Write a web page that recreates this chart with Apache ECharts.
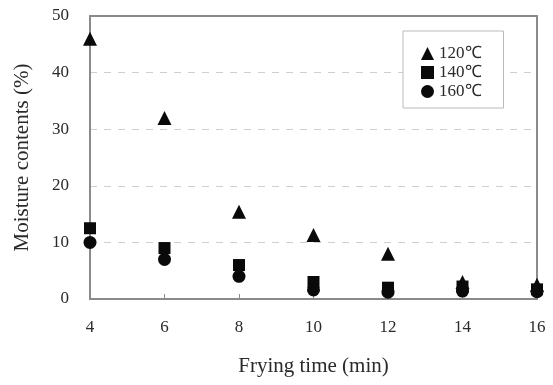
<!DOCTYPE html>
<html>
<head>
<meta charset="utf-8">
<script src="https://cdn.jsdelivr.net/npm/echarts@6/dist/echarts.min.js"></script>
<style>html,body{margin:0;padding:0;background:#fff}#chart{width:553px;height:385px}</style>
</head>
<body>
<div id="chart"></div>
<script>
// frying time (min)
const times = [4, 6, 8, 10, 12, 14, 16];
// moisture contents (%) per oil temperature
const m120 = [46, 32, 15.4, 11.3, 8, 3, 2.5];
const m140 = [12.5, 9, 6, 3, 2, 2.2, 1.7];
const m160 = [10, 7, 4, 1.6, 1.2, 1.4, 1.3];

const FONT = "Liberation Serif";
const AXIS_GREY = "#8a8a8a";
const TEXT = "#2a2a2a";

const pairs = (ys) => times.map((t, i) => [t, ys[i]]);

const chart = echarts.init(document.getElementById("chart"), null, { renderer: "canvas" });

const scatter = (name, symbol, ys, size) => ({
  name,
  type: "scatter",
  symbol,
  symbolSize: size,
  itemStyle: { color: "#0a0a0a", opacity: 1 },
  data: pairs(ys),
});

chart.setOption({
  animation: false,
  textStyle: { fontFamily: FONT },
  legend: {
    orient: "vertical",
    left: 403,
    top: 31,
    padding: [14, 22, 8, 18],
    itemGap: 2,
    itemWidth: 13,
    itemHeight: 13,
    backgroundColor: "#fff",
    borderColor: "#bbb",
    borderWidth: 1,
    textStyle: { fontFamily: FONT, fontSize: 17, color: TEXT, width: 48 },
    data: ["120℃", "140℃", "160℃"],
  },
  grid: { left: 90, right: 16, top: 16, bottom: 86 },
  xAxis: [
    {
      type: "value",
      min: 4,
      max: 16,
      interval: 2,
      name: "Frying time (min)",
      nameLocation: "middle",
      nameGap: 57,
      nameTextStyle: { fontFamily: FONT, fontSize: 21, color: TEXT },
      axisLine: { lineStyle: { color: AXIS_GREY, width: 2 } },
      axisTick: { inside: true, length: 5, lineStyle: { color: AXIS_GREY } },
      axisLabel: { fontFamily: FONT, fontSize: 17, color: TEXT, margin: 20 },
      splitLine: { show: false },
    },
    {
      type: "value",
      position: "top",
      min: 4,
      max: 16,
      axisLine: { onZero: false, lineStyle: { color: AXIS_GREY, width: 2 } },
      axisTick: { show: false },
      axisLabel: { show: false },
      splitLine: { show: false },
    },
  ],
  yAxis: [
    {
      type: "value",
      min: 0,
      max: 50,
      interval: 10,
      name: "Moisture contents (%)",
      nameLocation: "middle",
      nameGap: 57,
      nameTextStyle: { fontFamily: FONT, fontSize: 21, color: TEXT },
      axisLine: { show: true, lineStyle: { color: AXIS_GREY, width: 2 } },
      axisTick: { show: false },
      axisLabel: { fontFamily: FONT, fontSize: 17, color: TEXT, margin: 21 },
      splitLine: { lineStyle: { color: "#cfcfcf", type: [7, 7], width: 1 } },
    },
    {
      type: "value",
      position: "right",
      min: 0,
      max: 50,
      axisLine: { show: true, onZero: false, lineStyle: { color: AXIS_GREY, width: 2 } },
      axisTick: { show: false },
      axisLabel: { show: false },
      splitLine: { show: false },
    },
  ],
  series: [
    scatter("120℃", "triangle", m120, 14),
    scatter("140℃", "rect", m140, 12),
    scatter("160℃", "circle", m160, 13),
  ],
});
</script>
</body>
</html>
